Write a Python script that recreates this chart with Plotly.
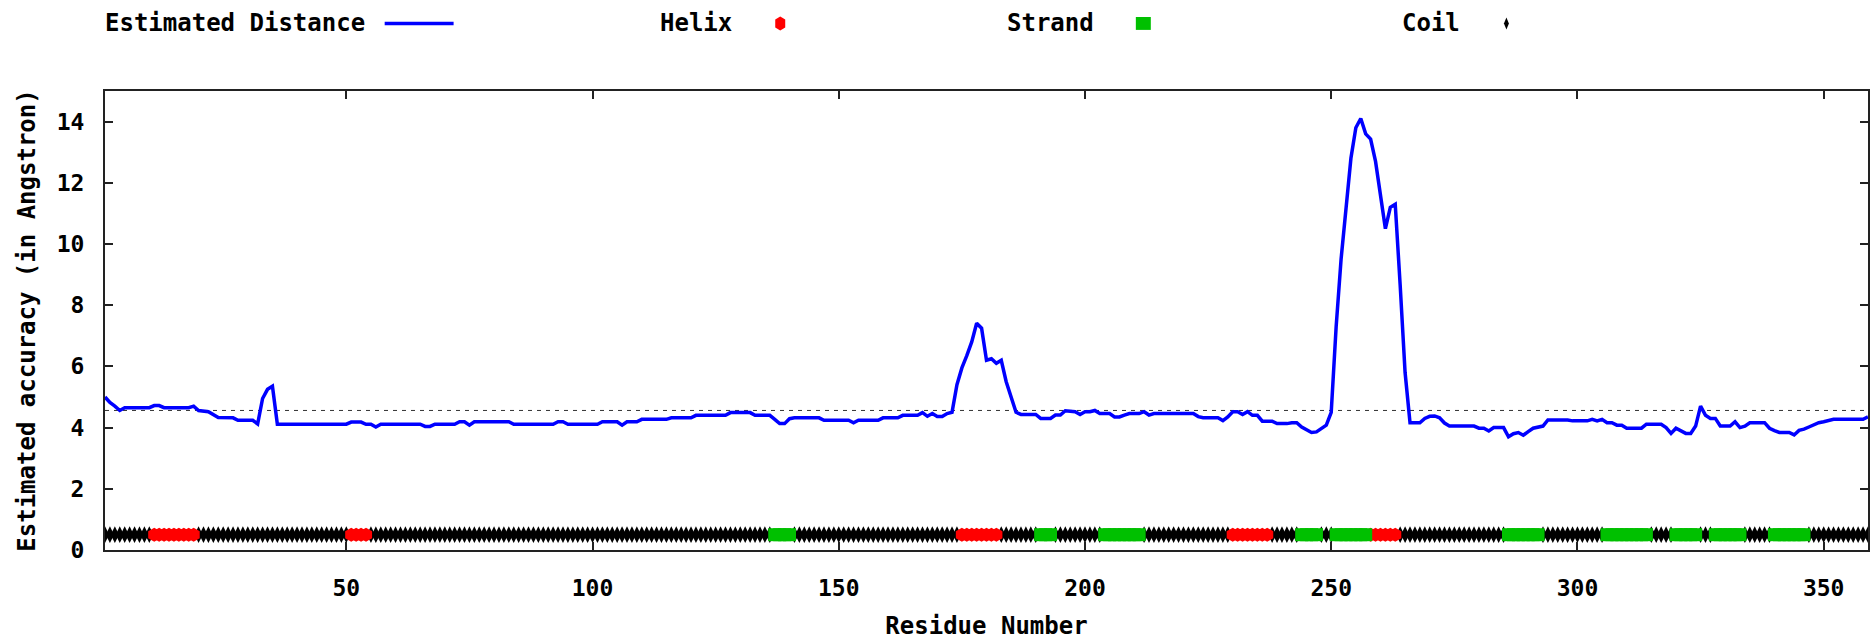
import plotly.graph_objects as go

# ---------------- data ----------------
residue = [1, 2, 3, 4, 5, 10, 11, 12, 13, 18, 19, 20, 22, 23, 24, 27, 28, 31, 32, 33, 34, 35, 36,
           50, 51, 53, 54, 55, 56, 57, 65, 66, 67, 68, 72, 73, 74, 75, 76, 83, 84, 92, 93, 94, 95,
           101, 102, 105, 106, 107, 109, 110, 115, 116, 120, 121, 127, 128, 132, 133, 136, 137, 138,
           139, 140, 141, 146, 147, 152, 153, 154, 158, 159, 162, 163, 166, 167, 168, 169, 170, 171,
           172, 173, 174, 175, 176, 177, 178, 179, 180, 181, 182, 183, 184, 185, 186, 187, 190, 191,
           193, 194, 195, 196, 198, 199, 200, 201, 202, 203, 205, 206, 207, 208, 209, 211, 212, 213,
           214, 222, 223, 224, 227, 228, 229, 230, 231, 232, 233, 234, 235, 236, 238, 239, 241, 242,
           243, 244, 245, 246, 247, 248, 249, 250, 251, 252, 253, 254, 255, 256, 257, 258, 259, 260,
           261, 262, 263, 264, 265, 266, 268, 269, 270, 271, 272, 273, 274, 279, 280, 281, 282, 283,
           285, 286, 287, 288, 289, 290, 291, 293, 294, 298, 299, 302, 303, 304, 305, 306, 307, 308,
           309, 310, 313, 314, 317, 318, 319, 320, 321, 322, 323, 324, 325, 326, 327, 328, 329, 331,
           332, 333, 334, 335, 338, 339, 340, 341, 343, 344, 345, 346, 347, 348, 349, 350, 351, 352,
           358, 359]
distance = [5.00, 4.82, 4.70, 4.56, 4.65, 4.65, 4.72, 4.72, 4.65, 4.65, 4.70, 4.56, 4.52, 4.42, 4.33,
            4.32, 4.24, 4.24, 4.12, 4.95, 5.25, 5.35, 4.11,
            4.11, 4.18, 4.18, 4.11, 4.11, 4.02, 4.11, 4.11, 4.04, 4.04, 4.11, 4.11, 4.19, 4.19, 4.08,
            4.19, 4.19, 4.11, 4.11, 4.19, 4.19, 4.11,
            4.11, 4.19, 4.19, 4.08, 4.19, 4.19, 4.27, 4.27, 4.32, 4.32, 4.40, 4.40, 4.49, 4.49, 4.40,
            4.40, 4.27, 4.13,
            4.13, 4.29, 4.32, 4.32, 4.24, 4.24, 4.16, 4.24, 4.24, 4.32, 4.32, 4.40, 4.40, 4.49, 4.37,
            4.46, 4.36, 4.36,
            4.46, 4.50, 5.40, 5.95, 6.35, 6.80, 7.41, 7.25, 6.20, 6.25, 6.10, 6.20, 5.50, 5.00, 4.50,
            4.43, 4.43, 4.30,
            4.30, 4.41, 4.41, 4.55, 4.52, 4.43, 4.52, 4.52, 4.56, 4.46, 4.46, 4.35, 4.35, 4.41, 4.46,
            4.46, 4.52, 4.41,
            4.46, 4.46, 4.36, 4.32, 4.32, 4.23, 4.35, 4.52, 4.52, 4.43, 4.52, 4.40, 4.40, 4.21, 4.21,
            4.13, 4.13, 4.16,
            4.16, 4.02, 3.92, 3.84, 3.86, 3.98, 4.08, 4.50, 7.30, 9.50, 11.15, 12.80, 13.80, 14.10,
            13.60, 13.43, 12.70, 11.50,
            10.50, 11.20, 11.30, 8.66, 5.80, 4.16, 4.16, 4.30, 4.37, 4.38, 4.32, 4.15, 4.05, 4.05,
            3.98, 3.98, 3.89, 4.00,
            4.00, 3.70, 3.80, 3.84, 3.75, 3.87, 3.98, 4.05, 4.25, 4.25, 4.22, 4.22, 4.27, 4.22, 4.27,
            4.16, 4.16, 4.08,
            4.08, 3.98, 3.98, 4.11, 4.11, 4.00, 3.81, 3.98, 3.91, 3.81, 3.81, 4.05, 4.70, 4.40, 4.30,
            4.30, 4.05, 4.05,
            4.19, 4.00, 4.05, 4.16, 4.16, 3.98, 3.90, 3.84, 3.84, 3.76, 3.91, 3.95, 4.02, 4.10, 4.16,
            4.19, 4.22, 4.27,
            4.27, 4.35]

seq_length = 359
threshold = 4.56

helix_start = [11, 51, 175, 230, 258]
helix_end = [19, 54, 182, 237, 263]
strand_start = [137, 191, 204, 244, 251, 286, 306, 320, 328, 340]
strand_end = [140, 193, 211, 247, 257, 292, 314, 324, 333, 346]

legend_labels = ["Estimated Distance", "Helix", "Strand", "Coil"]
x_title = "Residue Number"
y_title = "Estimated accuracy (in Angstron)"

# ---------------- secondary structure per residue ----------------
helix_x, strand_x, coil_x = [], [], []
for r in range(1, seq_length + 1):
    if any(s <= r <= e for s, e in zip(helix_start, helix_end)):
        helix_x.append(r)
    elif any(s <= r <= e for s, e in zip(strand_start, strand_end)):
        strand_x.append(r)
    else:
        coil_x.append(r)

BAND = 0.5
FONT = "DejaVu Sans Mono"
BLUE = "#0000ff"
RED = "#ff0000"
GREEN = "#00c000"
AX = "#222222"

fig = go.Figure()
fig.add_trace(go.Scatter(x=coil_x, y=[BAND] * len(coil_x), mode="markers",
                         marker=dict(symbol="diamond-tall", size=12, color="black", line_width=0),
                         showlegend=False, hoverinfo="skip"))
fig.add_trace(go.Scatter(x=helix_x, y=[BAND] * len(helix_x), mode="markers",
                         marker=dict(symbol="hexagon", size=14, color=RED, line_width=0),
                         showlegend=False, hoverinfo="skip"))
fig.add_trace(go.Scatter(x=strand_x, y=[BAND] * len(strand_x), mode="markers",
                         marker=dict(symbol="square", size=13, color=GREEN, line_width=0),
                         showlegend=False, hoverinfo="skip"))
fig.add_trace(go.Scatter(x=[1, seq_length], y=[threshold, threshold], mode="lines",
                         line=dict(color="#333333", width=1, dash="4px,5px"),
                         showlegend=False, hoverinfo="skip"))
fig.add_trace(go.Scatter(x=residue, y=distance, mode="lines",
                         line=dict(color=BLUE, width=3.5), showlegend=False))

# ---------------- layout ----------------
W, H = 1875, 640
L, R, T, B = 105, 5, 91, 87
PW, PH = W - L - R, H - T - B


def px(xp):
    return (xp - L) / PW


def py(yp):
    return (H - B - yp) / PH


tickfont = dict(family=FONT, size=23, color="black", weight="bold")
axis_common = dict(showgrid=False, zeroline=False, showline=True, linewidth=2, linecolor=AX,
                   mirror="allticks", ticks="inside", ticklen=8, tickwidth=2, tickcolor=AX,
                   tickfont=tickfont)

fig.update_layout(
    width=W, height=H,
    margin=dict(l=L, r=R, t=T, b=B, pad=0),
    paper_bgcolor="white", plot_bgcolor="white",
    showlegend=False,
    xaxis=dict(range=[1, seq_length], tickmode="array", tickvals=[50, 100, 150, 200, 250, 300, 350],
               ticklabelstandoff=16,
               title=dict(text=x_title, font=dict(family=FONT, size=24, color="black", weight="bold"),
                          standoff=18),
               **axis_common),
    yaxis=dict(range=[0, 15], tickmode="array", tickvals=[0, 2, 4, 6, 8, 10, 12, 14],
               ticklabelstandoff=14,
               title=dict(text=y_title, font=dict(family=FONT, size=24, color="black", weight="bold"),
                          standoff=14),
               **axis_common),
)

# custom legend (text left, sample right, gnuplot style)
leg_y = 23
leg_font = dict(family=FONT, size=24, color="black", weight="bold")
text_left = [103, 659, 1006, 1401]
for lbl, xl in zip(legend_labels, text_left):
    fig.add_annotation(x=px(xl), y=py(leg_y), xref="paper", yref="paper", text=lbl,
                       showarrow=False, xanchor="left", yanchor="middle", font=leg_font)

shapes = []
# line sample
shapes.append(dict(type="line", xref="paper", yref="paper", x0=px(385), x1=px(454),
                   y0=py(leg_y), y1=py(leg_y), line=dict(color=BLUE, width=3.5)))
# helix sample (tall hexagon)
hx, hw, hh = 781, 5, 7
path = "M {} {} L {} {} L {} {} L {} {} L {} {} L {} {} Z".format(
    px(hx), py(leg_y - hh), px(hx + hw), py(leg_y - hh + 3), px(hx + hw), py(leg_y + hh - 3),
    px(hx), py(leg_y + hh), px(hx - hw), py(leg_y + hh - 3), px(hx - hw), py(leg_y - hh + 3))
shapes.append(dict(type="path", xref="paper", yref="paper", path=path,
                   fillcolor=RED, line=dict(width=0)))
# strand sample
shapes.append(dict(type="rect", xref="paper", yref="paper", x0=px(1137), x1=px(1152),
                   y0=py(leg_y + 6.5), y1=py(leg_y - 6.5), fillcolor=GREEN, line=dict(width=0)))
# coil sample (tall diamond)
cx, cw, ch = 1508, 2.5, 6
path = "M {} {} L {} {} L {} {} L {} {} Z".format(
    px(cx), py(leg_y - ch), px(cx + cw), py(leg_y), px(cx), py(leg_y + ch), px(cx - cw), py(leg_y))
shapes.append(dict(type="path", xref="paper", yref="paper", path=path,
                   fillcolor="black", line=dict(width=0)))
fig.update_layout(shapes=shapes)

fig.write_html("out.html", config={"displayModeBar": False},
               post_script="document.body.style.margin='0';")
